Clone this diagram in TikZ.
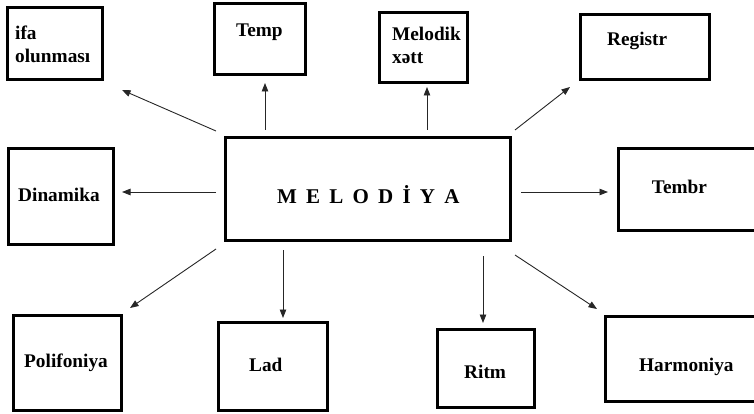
\documentclass[tikz,border=0pt]{standalone}
\usepackage{fontspec}
\setmainfont{Liberation Serif}
\usetikzlibrary{arrows.meta}
\begin{document}
\begin{tikzpicture}[x=1pt,y=-1pt,
  box/.style={draw, line width=3pt, inner sep=0pt},
  lbl/.style={inner sep=0pt, anchor=base west, font=\bfseries\fontsize{19.3}{23}\selectfont, align=left},
  arr/.style={draw=black!85, line width=0.9pt, -{Triangle[length=8.5pt,width=6.5pt]}}]
\clip (0,0) rectangle (754,414);
% boxes
\node[box, minimum width=95pt, minimum height=72pt] (ifa) at (55,43.5) {};
\node[box, minimum width=91pt, minimum height=71pt] (temp) at (260,39) {};
\node[box, minimum width=88pt, minimum height=70pt] (melodik) at (423.5,47.5) {};
\node[box, minimum width=129pt, minimum height=65pt] (registr) at (645,47) {};
\node[box, minimum width=105pt, minimum height=96pt] (dinamika) at (61,196.5) {};
\node[box, minimum width=285pt, minimum height=103pt] (main) at (368,189) {};
\node[box, minimum width=150pt, minimum height=82pt] (tembr) at (693.5,189.5) {};
\node[box, minimum width=108pt, minimum height=95pt] (polifoniya) at (67.5,363) {};
\node[box, minimum width=109pt, minimum height=88pt] (lad) at (273,366.5) {};
\node[box, minimum width=97pt, minimum height=78pt] (ritm) at (486,368.5) {};
\node[box, minimum width=163pt, minimum height=85pt] (harmoniya) at (687,359) {};
% labels
\node[lbl] (t-ifa) at (15,63) {ifa\\olunması};
\node[lbl] (t-temp) at (236,37) {Temp};
\node[lbl] (t-melodik) at (392,64) {Melodik\\xətt};
\node[lbl] (t-registr) at (607,45.7) {Registr};
\node[lbl] (t-dinamika) at (18,201.7) {Dinamika};
\node[lbl, font=\bfseries\fontsize{21}{25}\selectfont] (t-main) at (277,203.3)
  {M\hspace{9.2pt}E\hspace{9.2pt}L\hspace{9.2pt}O\hspace{9.2pt}D\hspace{9.2pt}İ\hspace{9.2pt}Y\hspace{9.2pt}A};
\node[lbl] (t-tembr) at (651.7,193.3) {Tembr};
\node[lbl] (t-polifoniya) at (24,367.3) {Polifoniya};
\node[lbl] (t-lad) at (249,371.7) {Lad};
\node[lbl] (t-ritm) at (464,378.3) {Ritm};
\node[lbl] (t-harmoniya) at (639,371.7) {Harmoniya};
% arrow end points
\coordinate (s-ifa) at (216,131);   \coordinate (e-ifa) at (122,90);
\coordinate (s-temp) at (265,130);  \coordinate (e-temp) at (265,83);
\coordinate (s-mel) at (427,130);   \coordinate (e-mel) at (427,87);
\coordinate (s-reg) at (515,130);   \coordinate (e-reg) at (570,87);
\coordinate (s-din) at (216,192);   \coordinate (e-din) at (122,192);
\coordinate (s-tem) at (521,192);   \coordinate (e-tem) at (608,192);
\coordinate (s-pol) at (216,249);   \coordinate (e-pol) at (130,308);
\coordinate (s-lad) at (283,250);   \coordinate (e-lad) at (283,318);
\coordinate (s-rit) at (483,256);   \coordinate (e-rit) at (483,323);
\coordinate (s-har) at (515,255);   \coordinate (e-har) at (597,309);
\draw[arr] (s-ifa) -- (e-ifa);
\draw[arr] (s-temp) -- (e-temp);
\draw[arr] (s-mel) -- (e-mel);
\draw[arr] (s-reg) -- (e-reg);
\draw[arr] (s-din) -- (e-din);
\draw[arr] (s-tem) -- (e-tem);
\draw[arr] (s-pol) -- (e-pol);
\draw[arr] (s-lad) -- (e-lad);
\draw[arr] (s-rit) -- (e-rit);
\draw[arr] (s-har) -- (e-har);
\end{tikzpicture}
\end{document}
